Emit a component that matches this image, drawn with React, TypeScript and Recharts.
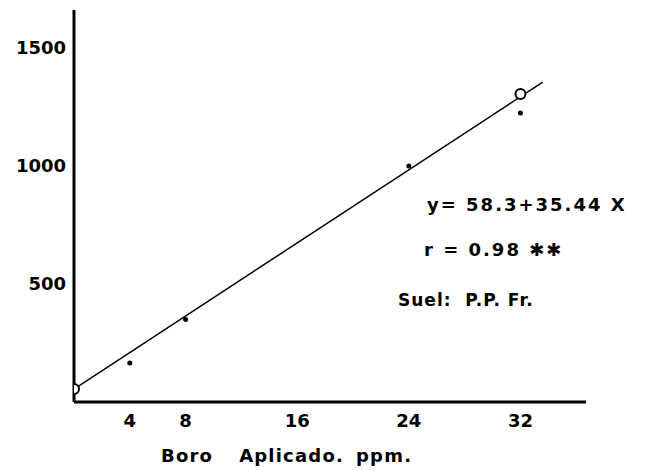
import React from "react";
import {
  ComposedChart,
  Scatter,
  XAxis,
  YAxis,
  ReferenceLine,
} from "recharts";

// valores (boro aplicado, ppm / respuesta)
const openPoints = [
  { x: 0, y: 55 },
  { x: 32, y: 1305 },
];
const dotPoints = [
  { x: 4, y: 165 },
  { x: 8, y: 350 },
  { x: 24, y: 1000 },
  { x: 32, y: 1225 },
];
// recta de regresión tal como está dibujada
const fitLine = [
  { x: 0, y: 55 },
  { x: 33.6, y: 1355 },
];
const xTicks = [4, 8, 16, 24, 32];
const yTicks = [500, 1000, 1500];
const xDomain = [0, 36.7];
const yDomain = [0, 1661];

const equation = "y= 58.3+35.44 X";
const correlation = "r = 0.98 ✱✱";
const soil = "Suel:  P.P. Fr.";

const FONT = "'DejaVu Sans', 'Liberation Sans', sans-serif";

const OpenCircle = (props: any) => (
  <circle cx={props.cx} cy={props.cy} r={5} fill="#fff" stroke="#000" strokeWidth={2} />
);
const SmallDot = (props: any) => (
  <circle cx={props.cx} cy={props.cy} r={2.5} fill="#000" />
);

// título del eje X
const AxisTitle = ({ viewBox }: any) => {
  const { x, y } = viewBox;
  return (
    <text
      x={x + 87}
      y={y + 60}
      fontFamily={FONT}
      fontWeight="bold"
      fontSize={18}
      letterSpacing={1.2}
      fill="#000"
    >
      <tspan>Boro</tspan>
      <tspan dx={26}>Aplicado.</tspan>
      <tspan dx={12}>ppm.</tspan>
    </text>
  );
};

const noteStyle: React.CSSProperties = {
  position: "absolute",
  fontFamily: FONT,
  fontWeight: "bold",
  fontSize: 18,
  lineHeight: "18px",
  color: "#000",
  whiteSpace: "pre",
};

export default function App() {
  const tickStyle = { fill: "#000", fontSize: 18, fontWeight: "bold", fontFamily: FONT };
  return (
    <div style={{ position: "absolute", left: 0, top: 0, width: 647, height: 471, background: "#fff" }}>
      <ComposedChart
        width={647}
        height={471}
        margin={{ top: 10, right: 61, bottom: 0, left: 0 }}
      >
        <XAxis
          type="number"
          dataKey="x"
          domain={xDomain}
          ticks={xTicks}
          allowDataOverflow
          height={69}
          tickLine={false}
          axisLine={{ stroke: "#000", strokeWidth: 3 }}
          tick={tickStyle}
          tickMargin={6}
          label={<AxisTitle />}
        />
        <YAxis
          type="number"
          dataKey="y"
          domain={yDomain}
          ticks={yTicks}
          allowDataOverflow
          width={74}
          tickLine={false}
          axisLine={{ stroke: "#000", strokeWidth: 3 }}
          tick={tickStyle}
        />
        <ReferenceLine
          segment={fitLine}
          stroke="#000"
          strokeWidth={1.5}
          ifOverflow="visible"
        />
        <Scatter data={dotPoints} shape={<SmallDot />} isAnimationActive={false} />
        <Scatter data={openPoints} shape={<OpenCircle />} isAnimationActive={false} />
      </ComposedChart>
      <div style={{ ...noteStyle, left: 427, top: 196, letterSpacing: 2 }}>{equation}</div>
      <div style={{ ...noteStyle, left: 424, top: 241, letterSpacing: 2 }}>{correlation}</div>
      <div style={{ ...noteStyle, left: 398, top: 291, fontSize: 17, letterSpacing: 1 }}>{soil}</div>
    </div>
  );
}
